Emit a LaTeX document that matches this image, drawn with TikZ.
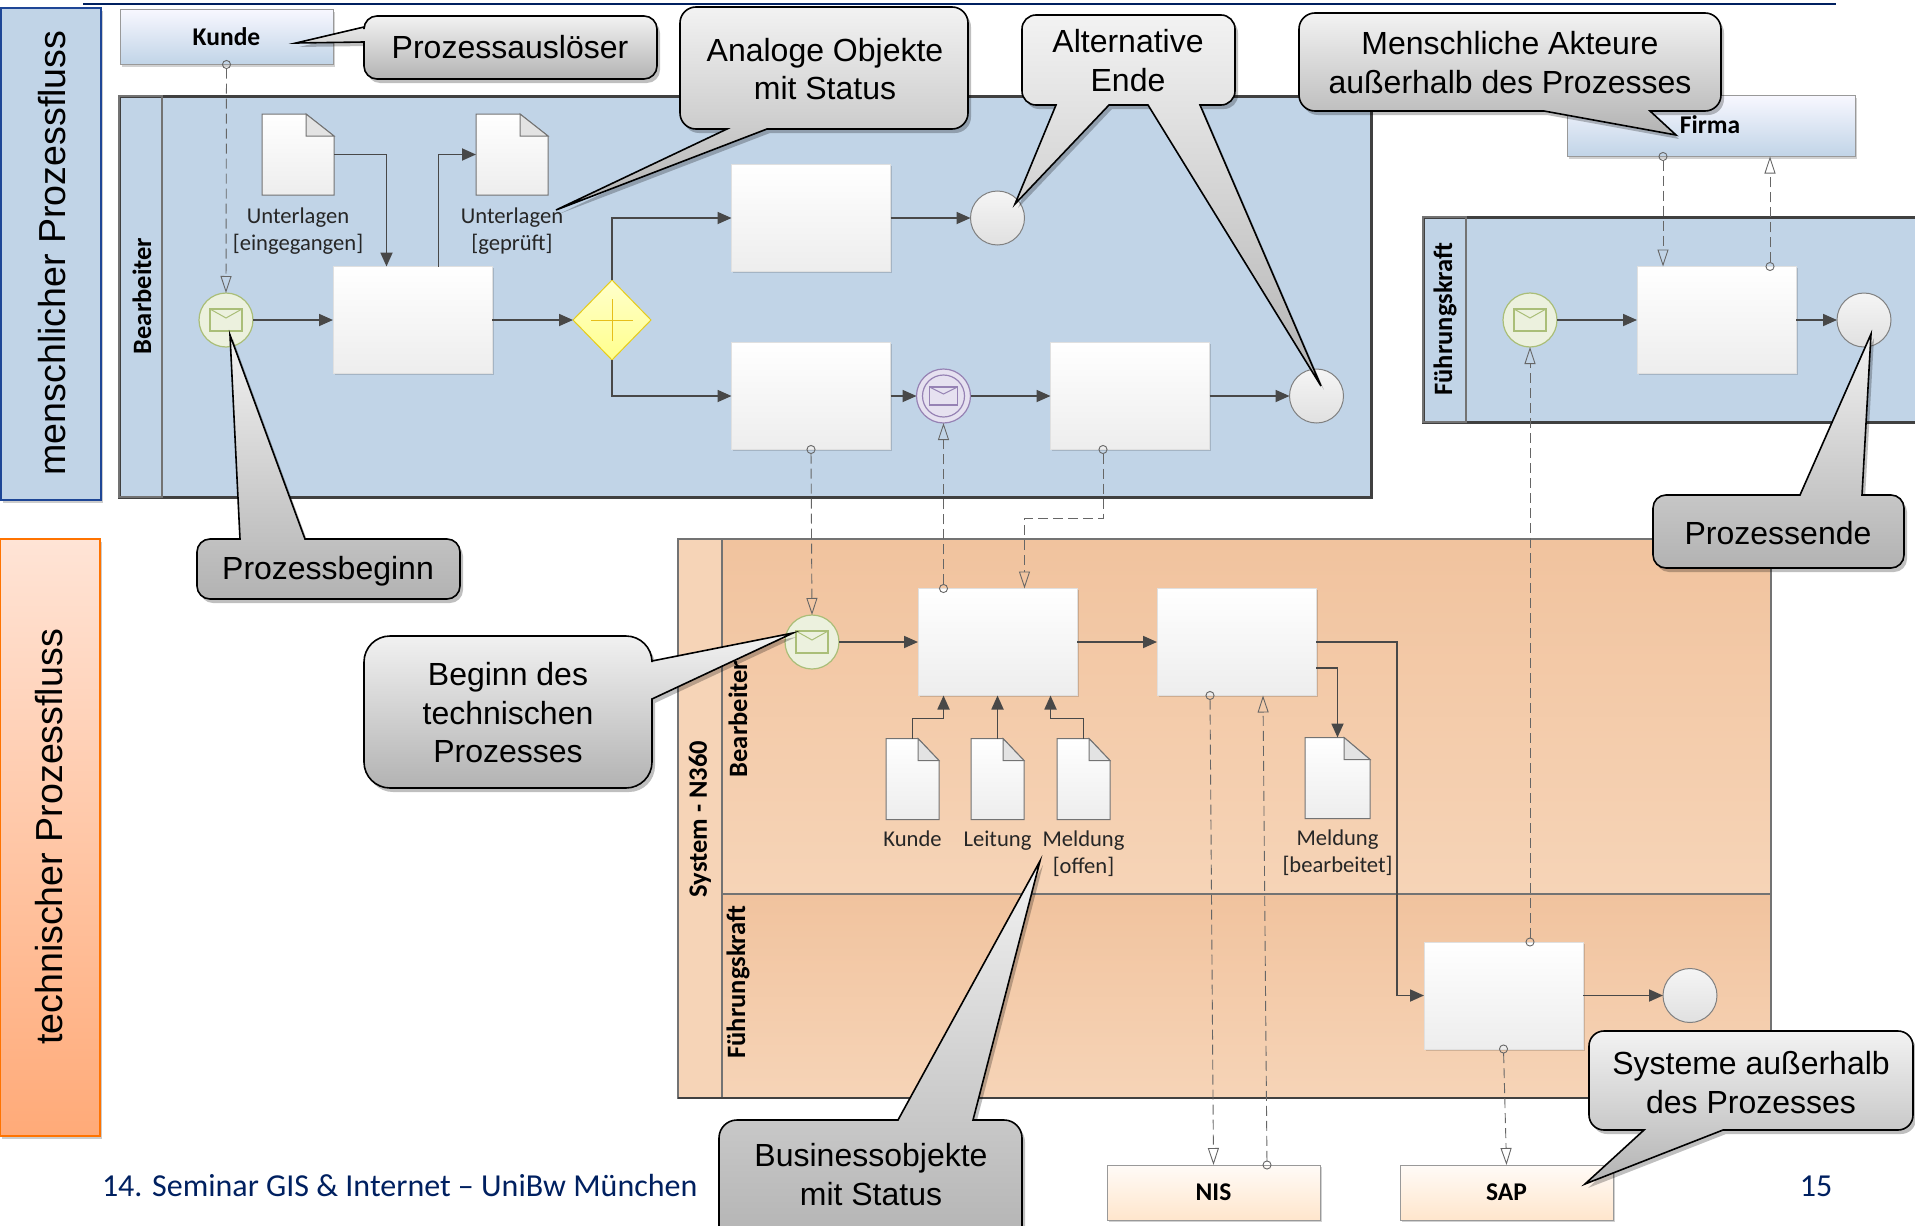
\documentclass[tikz,border=0pt]{standalone}
\usepackage{fontspec}
\setmainfont{Liberation Sans}
\newfontfamily\labelfont{Carlito}
\usepackage{xcolor}
\usepackage{tikz}
\usetikzlibrary{arrows.meta,positioning,shapes.geometric,shadows,calc}
\definecolor{poolblue}{RGB}{193,212,231}
\definecolor{poolline}{RGB}{64,64,64}
\definecolor{flowline}{RGB}{72,72,72}
\definecolor{navy}{RGB}{0,32,96}
\definecolor{orangetop}{RGB}{241,195,158}
\definecolor{orangelow}{RGB}{246,212,183}
\definecolor{greenline}{RGB}{170,190,120}
\definecolor{greenfill}{RGB}{236,241,222}
\definecolor{violetline}{RGB}{150,130,180}
\definecolor{violetfill}{RGB}{230,225,240}
\newcommand{\docsheet}[2]{
  \draw[docline, top color=white, bottom color=black!7] (#1.south west) -- (#1.north west) -- ($(#1.north east)+(-#2,0)$) -- ($(#1.north east)+(0,22)$) -- (#1.south east) -- cycle;
  \draw[docline, fill=black!11] ($(#1.north east)+(-#2,0)$) -- ++(0,22) -- ++(#2,0) -- cycle;
}
\newcommand{\envelope}[4]{
  \draw[#2, line width=1.2pt] ([xshift=-#3pt,yshift=-#4pt]#1.center) rectangle ([xshift=#3pt,yshift=#4pt]#1.center);
  \draw[#2, line width=1pt] ([xshift=-#3pt,yshift=#4pt]#1.center) -- ([yshift=2pt]#1.center) -- ([xshift=#3pt,yshift=#4pt]#1.center);
}
\begin{document}
\begin{tikzpicture}[
  x=1pt, y=-1pt,
  every node/.style={inner sep=0pt, outer sep=0pt},
  sidebox/.style={rectangle, minimum width=100pt, line width=1.6pt},
  sidetext/.style={rotate=90, font=\fontsize{37.6}{42}\selectfont},
  pool/.style={rectangle, anchor=north west, draw=poolline, line width=3pt, fill=poolblue},
  head/.style={rectangle, anchor=north west, draw=black!55, line width=1.2pt},
  lane/.style={rectangle, anchor=north west, draw=black!55, line width=1.2pt, top color=orangetop, bottom color=orangelow},
  lanetext/.style={rotate=90, font=\labelfont\bfseries\fontsize{26.5}{28}\selectfont},
  actor/.style={rectangle, minimum width=213pt, minimum height=55pt, draw=black!40, line width=1pt, font=\labelfont\bfseries\fontsize{25.5}{28}\selectfont, drop shadow={shadow xshift=2pt, shadow yshift=-2pt, fill=black, opacity=.18}},
  actorblue/.style={actor, top color=blue!3!white, bottom color=poolblue},
  actororange/.style={actor, top color=orange!3!white, bottom color=orange!20!white},
  taskbox/.style={rectangle, minimum width=159pt, minimum height=107pt, draw=black!12, line width=.8pt, top color=white, bottom color=black!7, drop shadow={shadow xshift=1.5pt, shadow yshift=-1.5pt, fill=black, opacity=.15}},
  startev/.style={circle, minimum size=54pt, draw=greenline, line width=1.2pt, fill=greenfill},
  interev/.style={circle, minimum size=54pt, draw=violetline, line width=1.2pt, fill=violetfill},
  endev/.style={circle, minimum size=54pt, draw=black!50, line width=1pt, top color=black!4, bottom color=black!12},
  gateway/.style={diamond, aspect=1, minimum width=78pt, minimum height=80pt, draw=yellow!80!orange!90!black, line width=1pt, top color=yellow!20!white, bottom color=yellow!45!white},
  docbox/.style={rectangle, minimum height=81pt},
  docline/.style={draw=black!55, line width=1pt},
  doclabel/.style={align=center, font=\labelfont\fontsize{22.6}{27}\selectfont, text=black!85},
  flow/.style={-{Triangle[length=14pt,width=12pt]}, line width=1.8pt, draw=flowline},
  msg/.style={{Circle[open,length=9pt,width=9pt]}-{Triangle[open,length=17pt,width=11pt]}, draw=black!60, line width=.9pt, dash pattern=on 10pt off 5pt, shorten <=-4.5pt},
  callout/.style={draw=black, line width=1.6pt, top color=black!5, bottom color=black!30, drop shadow={shadow xshift=3pt, shadow yshift=-4pt, fill=black, opacity=.25}},
  callouttext/.style={align=center, font=\fontsize{32}{38.5}\selectfont},
  footer/.style={text=navy, font=\labelfont\fontsize{32}{36}\selectfont}
]
  \useasboundingbox (0,0) rectangle (1915,1226);

  % side bars
  \draw[navy, line width=2.4pt] (83,4) -- (1836,4);
  \node[sidebox, anchor=north west, minimum height=492pt, draw={rgb,255:red,30;green,70;blue,150}, fill=poolblue, drop shadow={shadow xshift=2pt, shadow yshift=-3pt, fill=black, opacity=.2}] (sidemensch) at (1,8) {};
  \node[sidebox, anchor=north west, minimum height=597pt, draw=orange!90!red, top color={rgb,255:red,255;green,228;blue,214}, bottom color={rgb,255:red,255;green,170;blue,120}, drop shadow={shadow xshift=2pt, shadow yshift=-3pt, fill=black, opacity=.2}] (sidetech) at (0,539) {};
  \node[sidetext] (txtmensch) at (52,253) {menschlicher Prozessfluss};
  \node[sidetext] (txttech) at (49.5,837) {technischer Prozessfluss};

  % pools
  \node[pool, minimum width=1252pt, minimum height=401pt] (poolmensch) at (119,96) {};
  \node[head, minimum width=43pt, minimum height=401pt, line width=2pt] at (poolmensch.north west) (headmensch) {};
  \node[pool, minimum width=520pt, minimum height=205pt] (poolfuehr) at (1423,217) {};
  \node[head, minimum width=43pt, minimum height=205pt, line width=2pt] at (poolfuehr.north west) (headfuehr) {};
  \node[head, minimum width=44pt, minimum height=559pt, fill=orangelow] (headsystem) at (678,539) {};
  \node[lane, minimum width=1049pt, minimum height=355pt] (lanebearb) at (722,539) {};
  \node[lane, minimum width=1049pt, minimum height=204pt] (lanefuehr) at (722,894) {};
  \draw[poolline, line width=2.4pt] (headsystem.south west) -- (lanefuehr.south east);
  \node[lanetext] (txtbearb) at (142,296) {Bearbeiter};
  \node[lanetext] (txtfuehr) at (1445,319) {Führungskraft};
  \node[lanetext] (txtsystem) at (700,819) {System - N360};
  \node[lanetext] (txtbearbtwo) at (738,719) {Bearbeiter};
  \node[lanetext] (txtfuehrtwo) at (738,982) {Führungskraft};

  % actors
  \node[actorblue] (kunde) at (226.5,37) {Kunde};
  \node[actorblue, minimum width=288pt, minimum height=61pt] (firma) at (1711,126) {};
  \node[font=\labelfont\bfseries\fontsize{25.5}{28}\selectfont] (txtfirma) at (1710,125) {Firma};
  \node[actororange] (nis) at (1213.5,1192.5) {NIS};
  \node[actororange] (sap) at (1506.5,1192.5) {SAP};

  % upper flow
  \node[startev] (startmensch) at (226,320) {};
  \node[taskbox, right=80pt of startmensch] (taskpruef) {};
  \node[gateway, right=81pt of taskpruef] (gate) {};
  \node[taskbox] (taskup) at (811,218) {};
  \node[endev, right=80pt of taskup] (endup) {};
  \node[taskbox, below=71pt of taskup] (tasklow) {};
  \node[interev, right=26pt of tasklow] (warte) {};
  \node[taskbox, right=80pt of warte] (taskright) {};
  \node[endev, right=80pt of taskright] (endright) {};
  \node[docbox, minimum width=72pt] (docein) at (298,154.5) {};
  \node[docbox, minimum width=72pt] (docpruef) at (512,154.5) {};
  \node[doclabel, below=13pt of docein] (txtein) {Unterlagen\\{[}eingegangen{]}};
  \node[doclabel, below=13pt of docpruef] (txtpruef) {Unterlagen\\{[}geprüft{]}};
  \docsheet{docein}{28}
  \docsheet{docpruef}{28}
  \envelope{startmensch}{greenline}{16}{11}
  \envelope{warte}{violetline}{14}{9}
  \draw[violetline, line width=1.2pt] (warte.center) circle (21);
  \draw[yellow!65!orange!90!black, line width=1pt] ([xshift=-21pt]gate.center) -- ([xshift=21pt]gate.center);
  \draw[yellow!65!orange!90!black, line width=1pt] ([yshift=-21pt]gate.center) -- ([yshift=21pt]gate.center);

  \draw[flow] (startmensch) -- (taskpruef);
  \draw[flow] (taskpruef) -- (gate);
  \draw[flow] (gate.north) |- (taskup.west);
  \draw[flow] (gate.south) |- (tasklow.west);
  \draw[flow] (taskup) -- (endup);
  \draw[flow] (tasklow) -- (warte);
  \draw[flow] (warte) -- (taskright);
  \draw[flow] (taskright) -- (endright);
  \draw[flow] (docein.east) -| ([xshift=-26pt]taskpruef.north);
  \draw[flow] ([xshift=26pt]taskpruef.north) |- (docpruef.west);

  % leader flow
  \node[startev] (startfuehr) at (1530,320) {};
  \node[taskbox, right=80pt of startfuehr] (taskfuehr) {};
  \node[endev, right=41pt of taskfuehr] (endfuehr) {};
  \envelope{startfuehr}{greenline}{16}{11}
  \draw[flow] (startfuehr) -- (taskfuehr);
  \draw[flow] (taskfuehr) -- (endfuehr);

  % system flow
  \node[startev] (starttech) at (812,642) {};
  \node[taskbox, right=79pt of starttech] (taskdaten) {};
  \node[taskbox, right=80pt of taskdaten] (taskbearb) {};
  \node[taskbox] (taskfrei) at (1503.5,995.5) {};
  \node[endev, right=80pt of taskfrei] (endtech) {};
  \node[docbox, minimum width=53pt, below=43pt of taskdaten] (docleit) {};
  \node[docbox, minimum width=53pt, left=32pt of docleit] (dockunde) {};
  \node[docbox, minimum width=53pt, right=33pt of docleit] (docoffen) {};
  \node[docbox, minimum width=65pt] (docfertig) at (1337.5,778) {};
  \node[doclabel, below=11pt of dockunde] (txtkunde) {Kunde};
  \node[doclabel, below=11pt of docleit] (txtleit) {Leitung};
  \node[doclabel, below=11pt of docoffen] (txtoffen) {Meldung\\{[}offen{]}};
  \node[doclabel, below=11pt of docfertig] (txtfertig) {Meldung\\{[}bearbeitet{]}};
  \docsheet{dockunde}{21}
  \docsheet{docleit}{21}
  \docsheet{docoffen}{21}
  \docsheet{docfertig}{26}
  \envelope{starttech}{greenline}{16}{11}

  \draw[flow] (starttech) -- (taskdaten);
  \draw[flow] (taskdaten) -- (taskbearb);
  \draw[flow] (taskbearb.east) -- ++(81,0) |- (taskfrei.west);
  \draw[flow] ([yshift=-26pt]taskbearb.east) -| (docfertig.north);
  \draw[flow] (taskfrei) -- (endtech);
  \draw[flow] (dockunde.north) -- ++(0,-20) -| ([xshift=-54pt]taskdaten.south);
  \draw[flow] (docleit.north) -- (taskdaten.south);
  \draw[flow] (docoffen.north) -- ++(0,-20) -| ([xshift=53pt]taskdaten.south);

  % message flows
  \draw[msg] (kunde.south) -- (startmensch.north);
  \draw[msg] ([xshift=-48pt]firma.south) -- ([xshift=-53.5pt]taskfuehr.north);
  \draw[msg] ([xshift=53.5pt]taskfuehr.north) -- ([xshift=59pt]firma.south);
  \draw[msg] (tasklow.south) -- (starttech.north);
  \draw[msg] ([xshift=-54pt]taskdaten.north) -- (warte.south);
  \draw[msg] ([xshift=-27pt]taskright.south) -- ++(0,69) -| ([xshift=27pt]taskdaten.north);
  \draw[msg] ([xshift=-26.5pt]taskbearb.south) -- (nis.north);
  \draw[msg] ([xshift=53.5pt]nis.north) -- ([xshift=26.5pt]taskbearb.south);
  \draw[msg] (taskfrei.south) -- (sap.north);
  \draw[msg] ([xshift=26.5pt]taskfrei.north) -- (startfuehr.south);

  % callouts
  \draw[callout] (364,27) [rounded corners=13pt] -- (364,16) -- (657,16) -- (657,79) -- (364,79) [sharp corners] -- (364,42) -- (296,43) -- cycle;
  \node[callouttext] (txtausloeser) at (510,47) {Prozessauslöser};
  \draw[callout] (727,129) [rounded corners=16pt] -- (680,129) -- (680,7) -- (968,7) -- (968,129) [sharp corners] -- (767,129) -- (556,210) -- cycle;
  \node[callouttext] (txtanalog) at (825,69) {Analoge Objekte\\mit Status};
  \draw[callout] (1056,105) [rounded corners=14pt] -- (1022,105) -- (1022,15) -- (1235,15) -- (1235,105) [sharp corners] -- (1200,105) -- (1321,386) -- (1148,105) -- (1109,105) -- (1015,204) -- cycle;
  \node[callouttext] (txtende) at (1128,60.5) {Alternative\\Ende};
  \draw[callout] (1544,111) [rounded corners=16pt] -- (1299,111) -- (1299,13) -- (1721,13) -- (1721,111) [sharp corners] -- (1650,111) -- (1676,135) -- cycle;
  \node[callouttext] (txtakteure) at (1510,62.5) {Menschliche Akteure\\außerhalb des Prozesses};
  \draw[callout] (240,539) [rounded corners=13pt] -- (197,539) -- (197,599) -- (460,599) -- (460,539) [sharp corners] -- (305,539) -- (230,335) -- cycle;
  \node[callouttext] (txtbeginn) at (328,571) {Prozessbeginn};
  \draw[callout] (652,699) [rounded corners=26pt] -- (652,788) -- (364,788) -- (364,636) -- (652,636) [sharp corners] -- (652,661) -- (793,633) -- cycle;
  \node[callouttext] (txttechnik) at (508,713) {Beginn des\\technischen\\Prozesses};
  \draw[callout] (898,1120) [rounded corners=18pt] -- (719,1120) -- (719,1250) -- (1022,1250) -- (1022,1120) [sharp corners] -- (973,1120) -- (1040,861) -- cycle;
  \node[callouttext] (txtbusiness) at (871,1174.5) {Businessobjekte\\mit Status};
  \draw[callout] (1800,495) [rounded corners=13pt] -- (1653,495) -- (1653,568) -- (1904,568) -- (1904,495) [sharp corners] -- (1862,495) -- (1871,334) -- cycle;
  \node[callouttext] (txtprozessende) at (1778,533) {Prozessende};
  \draw[callout] (1644,1130) [rounded corners=15pt] -- (1589,1130) -- (1589,1031) -- (1913,1031) -- (1913,1130) [sharp corners] -- (1723,1130) -- (1585,1184) -- cycle;
  \node[callouttext] (txtsysteme) at (1751,1082.5) {Systeme außerhalb\\des Prozesses};

  % footer
  \node[footer, anchor=west] (txtfooter) at (102,1186) {14. Seminar GIS \& Internet – UniBw München};
  \node[footer] (txtseite) at (1816,1186) {15};
\end{tikzpicture}
\end{document}
